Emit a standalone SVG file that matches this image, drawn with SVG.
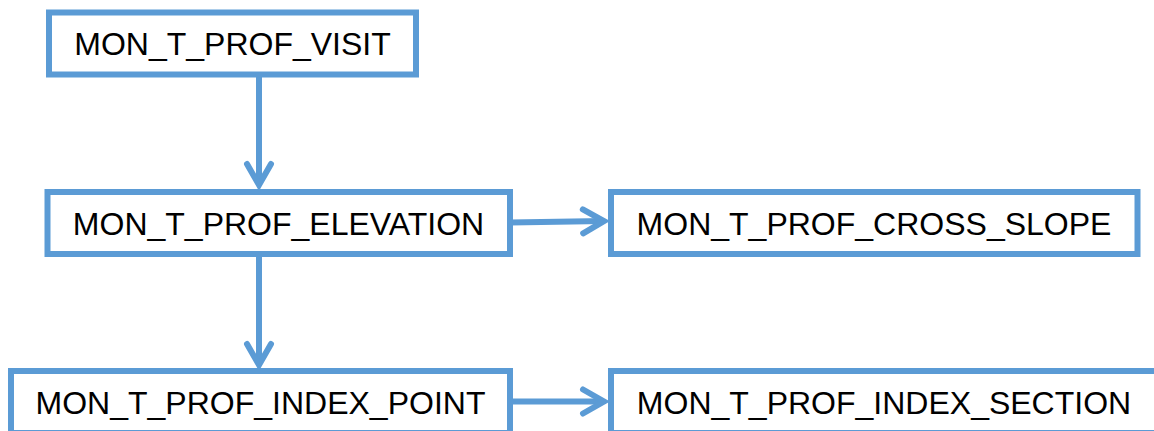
<svg xmlns="http://www.w3.org/2000/svg" width="1154" height="431" viewBox="0 0 1154 431">
  <style>
    .box { fill: #ffffff; stroke: #5B9BD5; stroke-width: 6; }
    .lbl { font-family: "Liberation Sans", Arial, sans-serif; font-size: 32px; fill: #000000; text-anchor: middle; }
    .edge { fill: none; stroke: #5B9BD5; stroke-width: 6; }
  </style>
  <defs>
    <marker id="arrow" markerUnits="userSpaceOnUse" orient="auto" refX="0" refY="0" markerWidth="40" markerHeight="40" viewBox="-30 -20 40 40" overflow="visible">
      <path d="M-21,-12 L0,0 L-21,12" fill="none" stroke="#5B9BD5" stroke-width="6" stroke-linecap="round" stroke-linejoin="miter"/>
    </marker>
  </defs>
  <rect width="1154" height="431" fill="#ffffff"/>
  <g id="connectors">
    <line class="edge" x1="259" y1="75" x2="259" y2="185" marker-end="url(#arrow)"/>
    <line class="edge" x1="259" y1="254" x2="259" y2="365" marker-end="url(#arrow)"/>
    <line class="edge" x1="510" y1="222.5" x2="604" y2="221" marker-end="url(#arrow)"/>
    <line class="edge" x1="510" y1="401.5" x2="604" y2="401.5" marker-end="url(#arrow)"/>
  </g>
  <g id="node-visit">
    <rect class="box" x="49" y="12.5" width="367" height="62"/>
    <text class="lbl" x="232.5" y="55">MON_T_PROF_VISIT</text>
  </g>
  <g id="node-elevation">
    <rect class="box" x="47.5" y="192" width="462.5" height="62"/>
    <text class="lbl" x="278.5" y="234.5">MON_T_PROF_ELEVATION</text>
  </g>
  <g id="node-cross-slope">
    <rect class="box" x="611" y="192" width="526.5" height="62"/>
    <text class="lbl" x="874" y="234.5">MON_T_PROF_CROSS_SLOPE</text>
  </g>
  <g id="node-index-point">
    <rect class="box" x="11" y="371" width="499" height="62"/>
    <text class="lbl" x="260.5" y="413.5">MON_T_PROF_INDEX_POINT</text>
  </g>
  <g id="node-index-section">
    <rect class="box" x="611" y="371" width="546" height="62"/>
    <text class="lbl" x="884" y="413.5">MON_T_PROF_INDEX_SECTION</text>
  </g>
</svg>
